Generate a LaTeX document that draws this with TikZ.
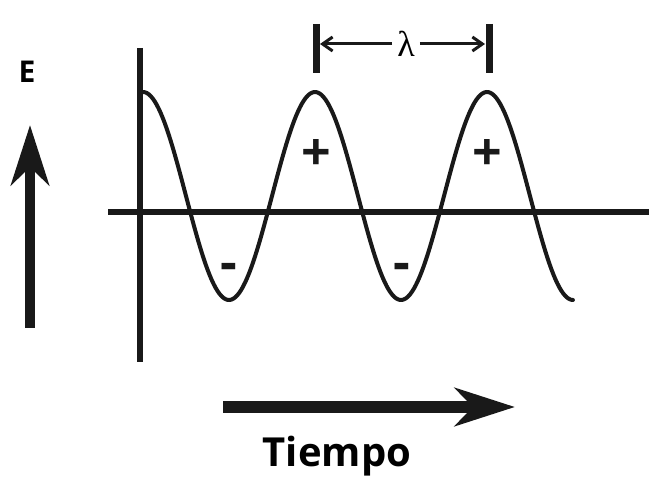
\documentclass[tikz,border=0pt]{standalone}
\usepackage{fontspec}
\setmainfont{Open Sans}
\newfontfamily\lamfont{Liberation Serif}
\usetikzlibrary{arrows.meta}
\tikzset{
  axisline/.style={line width=5.5pt, black!90},
  wave/.style={line width=4pt, black!90},
  marker/.style={line width=7pt, black!90},
  dimarrow/.style={line width=3pt, black!90, -{Straight Barb[length=10pt,width=14pt,line width=3pt]}},
  bigarrow/.style={line width=#1, black!90, -{Stealth[length=60pt,width=38pt,inset=18pt]}},
  sign/.style={font=\bfseries\fontsize{52}{52}\selectfont, text=black!90, inner sep=0pt},
  lbl/.style={font=\bfseries, inner sep=0pt}
}
\begin{document}
\begin{tikzpicture}[x=1pt,y=-1pt]
\useasboundingbox (0,0) rectangle (649,486);
% axes
\coordinate (vtop) at (140,48);
\coordinate (vbot) at (140,362);
\coordinate (hl) at (108,212);
\coordinate (hr) at (649,212);
\draw[axisline] (vtop) -- (vbot);
\draw[axisline] (hl) -- (hr);
% wave
\draw[wave, line cap=round] plot[domain=0:2.5, samples=220, variable=\t] ({143+172*\t}, {196-104*cos(360*\t)});
% lambda markers
\coordinate (m1t) at (316,24);
\coordinate (m1b) at (316,73);
\coordinate (m2t) at (489,24);
\coordinate (m2b) at (489,73);
\draw[marker] (m1t) -- (m1b);
\draw[marker] (m2t) -- (m2b);
\node[font=\lamfont\fontsize{36}{36}\selectfont, inner sep=0pt] (lam) at (406,44) {λ};
\coordinate (a1) at (320,44);
\coordinate (a2) at (485,44);
\draw[dimarrow] (lam.west) ++(-5,0) -- (a1);
\draw[dimarrow] (lam.east) ++(5,0) -- (a2);
% signs
\node[sign] (p1) at (316,155) {+};
\node[sign] (p2) at (487,155) {+};
\node[sign] (n1) at (229,272) {-};
\node[sign] (n2) at (402,272) {-};
% E arrow
\node[lbl, font=\bfseries\fontsize{30}{30}\selectfont] (E) at (27,72) {E};
\coordinate (et) at (30,125);
\coordinate (eb) at (30,328);
\draw[bigarrow=10pt] (eb) -- (et);
% time arrow
\coordinate (tl) at (223,407);
\coordinate (tr) at (515,407);
\draw[bigarrow=12pt] (tl) -- (tr);
\node[lbl, font=\bfseries\fontsize{40}{40}\selectfont] (T) at (337,456) {Tiempo};
\end{tikzpicture}
\end{document}
